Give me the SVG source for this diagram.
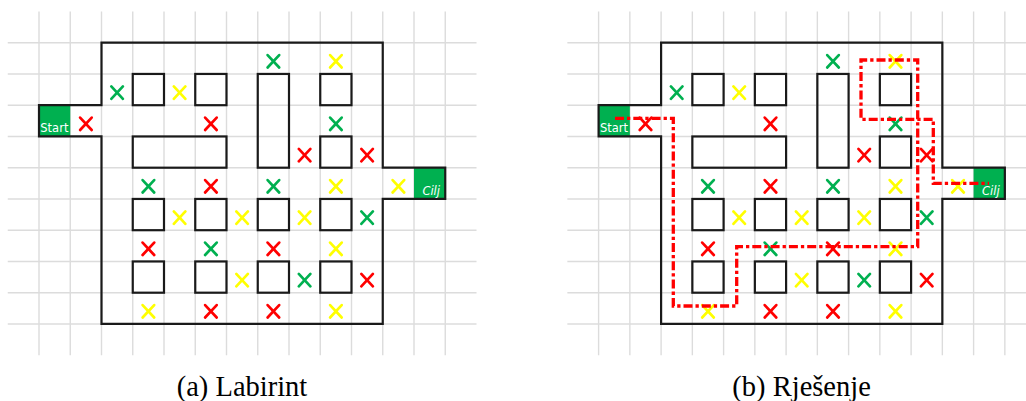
<svg xmlns="http://www.w3.org/2000/svg" xmlns:xlink="http://www.w3.org/1999/xlink" width="1026" height="401" viewBox="0 0 1026 401">
<style>
.wall{fill:none;stroke:#1A1A1A;stroke-width:2.2;stroke-linejoin:miter}
.box{fill:none;stroke:#1A1A1A;stroke-width:2.2}
.cell{fill:#00B050}
.mk{fill:none;stroke-width:2.7;stroke-linecap:round}
.g{stroke:#00B050}
.y{stroke:#FFFF00}
.r{stroke:#FF0000}
.lbl{font-family:"DejaVu Sans","Liberation Sans",sans-serif;font-size:11.5px;fill:#FFFFFF}
.cap{font-family:"Liberation Serif","Times New Roman",serif;font-size:28.5px;fill:#000;text-anchor:middle}
.route{fill:none;stroke:#FF0000;stroke-width:3.3;stroke-dasharray:9 3 3.3 3}
</style>
<defs>
<g id="xm"><line x1="-5.8" y1="-6.2" x2="5.8" y2="6.2"/><line x1="5.8" y1="-6.2" x2="-5.8" y2="6.2"/></g>
<g id="gridlines" stroke="#DCDCDC" stroke-width="1.4">
<line x1="39" y1="11.45" x2="39" y2="355.2"/><line x1="70.25" y1="11.45" x2="70.25" y2="355.2"/><line x1="101.5" y1="11.45" x2="101.5" y2="355.2"/><line x1="132.75" y1="11.45" x2="132.75" y2="355.2"/><line x1="164" y1="11.45" x2="164" y2="355.2"/><line x1="195.25" y1="11.45" x2="195.25" y2="355.2"/><line x1="226.5" y1="11.45" x2="226.5" y2="355.2"/><line x1="257.75" y1="11.45" x2="257.75" y2="355.2"/><line x1="289" y1="11.45" x2="289" y2="355.2"/><line x1="320.25" y1="11.45" x2="320.25" y2="355.2"/><line x1="351.5" y1="11.45" x2="351.5" y2="355.2"/><line x1="382.75" y1="11.45" x2="382.75" y2="355.2"/><line x1="414" y1="11.45" x2="414" y2="355.2"/><line x1="445.25" y1="11.45" x2="445.25" y2="355.2"/>
<line x1="7.75" y1="42.7" x2="476.5" y2="42.7"/><line x1="7.75" y1="73.95" x2="476.5" y2="73.95"/><line x1="7.75" y1="105.2" x2="476.5" y2="105.2"/><line x1="7.75" y1="136.45" x2="476.5" y2="136.45"/><line x1="7.75" y1="167.7" x2="476.5" y2="167.7"/><line x1="7.75" y1="198.95" x2="476.5" y2="198.95"/><line x1="7.75" y1="230.2" x2="476.5" y2="230.2"/><line x1="7.75" y1="261.45" x2="476.5" y2="261.45"/><line x1="7.75" y1="292.7" x2="476.5" y2="292.7"/><line x1="7.75" y1="323.95" x2="476.5" y2="323.95"/>
</g>
<g id="maze">
<rect fill="#00B050" x="39" y="105.2" width="31.25" height="31.25"/>
<rect fill="#00B050" x="414" y="167.7" width="31.25" height="31.25"/>
<path fill="none" stroke="#1A1A1A" stroke-width="2.2" d="M101.5 42.7H382.75V167.7H445.25V198.95H382.75V323.95H101.5V136.45H39V105.2H101.5Z"/>
<g fill="none" stroke="#1A1A1A" stroke-width="2.2">
<rect x="132.75" y="73.95" width="31.25" height="31.25"/>
<rect x="195.25" y="73.95" width="31.25" height="31.25"/>
<rect x="132.75" y="136.45" width="93.75" height="31.25"/>
<rect x="257.75" y="73.95" width="31.25" height="93.75"/>
<rect x="320.25" y="73.95" width="31.25" height="31.25"/>
<rect x="320.25" y="136.45" width="31.25" height="31.25"/>
<rect x="132.75" y="198.95" width="31.25" height="31.25"/>
<rect x="195.25" y="198.95" width="31.25" height="31.25"/>
<rect x="257.75" y="198.95" width="31.25" height="31.25"/>
<rect x="320.25" y="198.95" width="31.25" height="31.25"/>
<rect x="132.75" y="261.45" width="31.25" height="31.25"/>
<rect x="195.25" y="261.45" width="31.25" height="31.25"/>
<rect x="257.75" y="261.45" width="31.25" height="31.25"/>
<rect x="320.25" y="261.45" width="31.25" height="31.25"/>
</g>
<g fill="none" stroke-width="2.7" stroke-linecap="round">
<g stroke="#00B050">
<use xlink:href="#xm" x="273.4" y="61.3"/>
<use xlink:href="#xm" x="117.1" y="92.6"/>
<use xlink:href="#xm" x="335.9" y="123.8"/>
<use xlink:href="#xm" x="148.4" y="186.3"/>
<use xlink:href="#xm" x="273.4" y="186.3"/>
<use xlink:href="#xm" x="367.1" y="217.6"/>
<use xlink:href="#xm" x="210.9" y="248.8"/>
<use xlink:href="#xm" x="304.6" y="280.1"/>
</g>
<g stroke="#FFFF00">
<use xlink:href="#xm" x="335.9" y="61.3"/>
<use xlink:href="#xm" x="179.6" y="92.6"/>
<use xlink:href="#xm" x="335.9" y="186.3"/>
<use xlink:href="#xm" x="398.4" y="186.3"/>
<use xlink:href="#xm" x="179.6" y="217.6"/>
<use xlink:href="#xm" x="242.1" y="217.6"/>
<use xlink:href="#xm" x="304.6" y="217.6"/>
<use xlink:href="#xm" x="335.9" y="248.8"/>
<use xlink:href="#xm" x="242.1" y="280.1"/>
<use xlink:href="#xm" x="148.4" y="311.3"/>
<use xlink:href="#xm" x="335.9" y="311.3"/>
</g>
<g stroke="#FF0000">
<use xlink:href="#xm" x="85.9" y="123.8"/>
<use xlink:href="#xm" x="210.9" y="123.8"/>
<use xlink:href="#xm" x="304.6" y="155.1"/>
<use xlink:href="#xm" x="367.1" y="155.1"/>
<use xlink:href="#xm" x="210.9" y="186.3"/>
<use xlink:href="#xm" x="148.4" y="248.8"/>
<use xlink:href="#xm" x="273.4" y="248.8"/>
<use xlink:href="#xm" x="367.1" y="280.1"/>
<use xlink:href="#xm" x="210.9" y="311.3"/>
<use xlink:href="#xm" x="273.4" y="311.3"/>
</g>
</g>
</g>
</defs>
<rect width="1026" height="401" fill="#FFFFFF"/>
<g id="panel-a">
<use xlink:href="#gridlines"/>
<use xlink:href="#maze"/>
<g id="start-a"><text class="lbl" x="40.3" y="131.8">Start</text></g>
<g id="goal-a"><text class="lbl" x="440" y="195" text-anchor="end" font-style="italic" font-size="12.5">Cilj</text></g>
<text class="cap" x="242" y="395.5">(a) Labirint</text>
</g>
<g id="panel-b">
<use xlink:href="#gridlines" transform="translate(559.6 0)"/>
<use xlink:href="#maze" transform="translate(559.6 0)"/>
<g id="start-b"><text class="lbl" x="599.9" y="131.8">Start</text></g>
<g id="goal-b"><text class="lbl" x="999.6" y="195" text-anchor="end" font-style="italic" font-size="12.5">Cilj</text></g>
<g id="connectors">
<path class="route" d="M615 118.3H673.3V306H736.7V246.7H917.7V60H861V119.3H933.3V183.3H989"/>
</g>
<text class="cap" x="801.6" y="395.5">(b) Rješenje</text>
</g>
</svg>
